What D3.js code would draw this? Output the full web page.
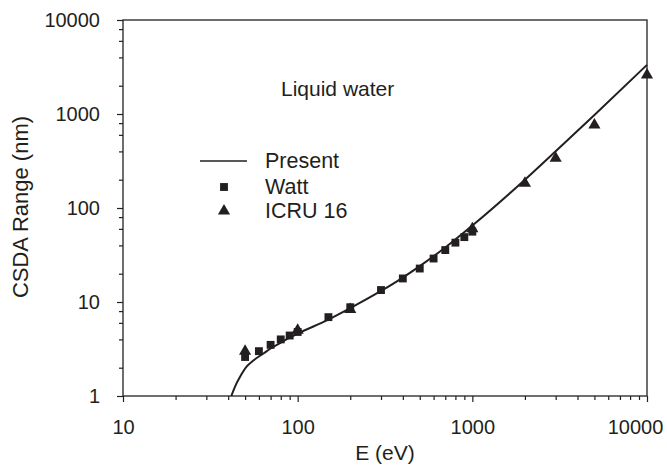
<!DOCTYPE html>
<html>
<head>
<meta charset="utf-8">
<script src="https://cdn.jsdelivr.net/npm/d3@7"></script>
<style>
  body { margin: 0; background: #fff; }
  svg text { font-family: "Liberation Sans", Arial, sans-serif; fill: #231f20; }
</style>
</head>
<body>
<div id="chart"></div>
<script>
var width = 667
var height = 469
var ink = "#231f20"

// ---- data
// Present calculation (solid curve)
var presentE = [41.7, 43.8, 46.8, 51, 56, 64, 70, 80, 100, 150, 200, 300, 400, 500, 700, 1000, 2000, 3000, 5000, 10000]
var presentR = [1.0, 1.26, 1.6, 2.05, 2.4, 2.85, 3.2, 3.7, 4.6, 6.5, 8.6, 13.1, 18.2, 24.1, 38, 65, 200, 402, 977, 3330]

// Watt (squares)
var wattE = [50, 60, 70, 80, 90, 100, 150, 200, 300, 400, 500, 600, 700, 800, 900, 1000]
var wattR = [2.6, 3.0, 3.5, 4.0, 4.4, 4.8, 6.9, 8.8, 13.4, 17.8, 22.7, 29, 35.7, 42.8, 49, 56]

// ICRU 16 (triangles)
var icruE = [50, 100, 200, 1000, 2000, 3000, 5000, 10000]
var icruR = [3.0, 5.0, 8.3, 60, 183, 338, 762, 2600]

var xMajor = [10, 100, 1000, 10000]
var yMajor = [1, 10, 100, 1000, 10000]

var margin = { left: 123, top: 20, right: 20, bottom: 73 }

var svg = d3.select("#chart")
    .append("svg")
    .attr("width", width)
    .attr("height", height)

var x = d3.scaleLog()
    .domain([10, 10000])
    .range([margin.left, width - margin.right])

var y = d3.scaleLog()
    .domain([1, 10000])
    .range([height - margin.bottom, margin.top])

// minor ticks: x at 2..9 of each decade, y at 2,4,6,8
var xMinor = []
var yMinor = []
for (var d = 10; d < 10000; d *= 10) {
    for (var k = 2; k <= 9; k++) xMinor.push(d * k)
}
for (var d = 1; d < 10000; d *= 10) {
    [2, 4, 6, 8].forEach(function (k) { yMinor.push(d * k) })
}

var fmt = d3.format("d")

// ---- axes
var gx = svg.append("g")
    .attr("transform", "translate(0," + y(1) + ")")

gx.append("g")
    .call(d3.axisBottom(x).tickValues(xMinor).tickSize(4).tickFormat(""))
gx.append("g")
    .call(d3.axisBottom(x).tickValues(xMajor).tickSize(6).tickPadding(18).tickFormat(fmt))

var gy = svg.append("g")
    .attr("transform", "translate(" + x(10) + ",0)")

gy.append("g")
    .call(d3.axisLeft(y).tickValues(yMinor).tickSize(4).tickFormat(""))
gy.append("g")
    .call(d3.axisLeft(y).tickValues(yMajor).tickSize(6).tickPadding(17).tickFormat(fmt))

svg.selectAll(".domain").remove()
svg.selectAll(".tick line").attr("stroke", ink).attr("stroke-width", 1.2)
svg.selectAll(".tick text")
    .attr("font-size", 20)
    .attr("fill", ink)

// last x label sits inside the picture
gx.selectAll(".tick text")
    .filter(function (d) { return d === 10000 })
    .attr("dx", -12)

// frame
svg.append("rect")
    .attr("x", x(10))
    .attr("y", y(10000))
    .attr("width", x(10000) - x(10))
    .attr("height", y(1) - y(10000))
    .attr("fill", "none")
    .attr("stroke", ink)
    .attr("stroke-width", 1.3)

// ---- series
var line = d3.line()
    .x(function (d) { return x(d[0]) })
    .y(function (d) { return y(d[1]) })
    .curve(d3.curveMonotoneX)

svg.append("path")
    .datum(presentE.map(function (e, i) { return [e, presentR[i]] }))
    .attr("d", line)
    .attr("fill", "none")
    .attr("stroke", ink)
    .attr("stroke-width", 2)

var square = d3.symbol().type(d3.symbolSquare).size(62)
var triangle = d3.symbol().type(d3.symbolTriangle).size(64)

svg.append("g").selectAll("path")
    .data(icruE.map(function (e, i) { return [e, icruR[i]] }))
    .enter()
    .append("path")
    .attr("d", triangle)
    .attr("transform", function (d) { return "translate(" + x(d[0]) + "," + y(d[1]) + ")" })
    .attr("fill", ink)

svg.append("g").selectAll("path")
    .data(wattE.map(function (e, i) { return [e, wattR[i]] }))
    .enter()
    .append("path")
    .attr("d", square)
    .attr("transform", function (d) { return "translate(" + x(d[0]) + "," + y(d[1]) + ")" })
    .attr("fill", ink)

// ---- labels
svg.append("text")
    .attr("x", (x(10) + x(10000)) / 2)
    .attr("y", 460)
    .attr("text-anchor", "middle")
    .attr("font-size", 21)
    .text("E (eV)")

svg.append("text")
    .attr("transform", "rotate(-90)")
    .attr("x", -207)
    .attr("y", 28)
    .attr("text-anchor", "middle")
    .attr("font-size", 22)
    .text("CSDA Range (nm)")

svg.append("text")
    .attr("x", 281)
    .attr("y", 96)
    .attr("font-size", 21)
    .text("Liquid water")

// ---- legend
var legend = svg.append("g")

legend.append("line")
    .attr("x1", 200)
    .attr("x2", 247)
    .attr("y1", 161)
    .attr("y2", 161)
    .attr("stroke", ink)
    .attr("stroke-width", 1.6)

legend.append("path")
    .attr("d", square)
    .attr("transform", "translate(224,187)")
    .attr("fill", ink)

legend.append("path")
    .attr("d", triangle)
    .attr("transform", "translate(224,211)")
    .attr("fill", ink)

var legendNames = ["Present", "Watt", "ICRU 16"]
var legendBase = [168, 194, 218]

legend.selectAll("text")
    .data(legendNames)
    .enter()
    .append("text")
    .attr("x", 265)
    .attr("y", function (d, i) { return legendBase[i] })
    .attr("font-size", 21.5)
    .text(function (d) { return d })
</script>
</body>
</html>
